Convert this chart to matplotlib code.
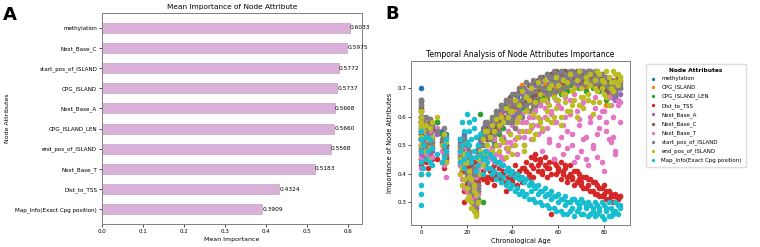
import matplotlib.pyplot as plt

# panel A data
attr_names = [
    "methylation", "Next_Base_C", "start_pos_of_ISLAND", "CPG_ISLAND",
    "Next_Base_A", "CPG_ISLAND_LEN", "end_pos_of_ISLAND", "Next_Base_T",
    "Dist_to_TSS", "Map_Info(Exact Cpg position)",
]
mean_importance = [0.6033, 0.5975, 0.5772, 0.5737, 0.5668, 0.5660,
                   0.5568, 0.5183, 0.4324, 0.3909]

# panel B data: sample ages and per-attribute importance
ages = ([0] * 8 + [1, 1, 2, 2, 3, 3, 4, 4, 5, 5] + [7, 9, 10, 10, 11, 11]
        + [17, 17, 18, 19, 19, 20, 20, 21, 21, 22, 22, 23, 23, 24, 24, 25, 25,
           26, 27, 28, 29]
        + list(range(30, 88)))

methylation = [
    0.70, 0.62, 0.58, 0.55, 0.60, 0.52, 0.65, 0.57,
    0.60, 0.55, 0.58, 0.52, 0.56, 0.50, 0.54, 0.59, 0.53, 0.57,
    0.58, 0.55, 0.53, 0.50, 0.54, 0.48,
    0.52, 0.48, 0.50, 0.46, 0.54, 0.42, 0.51, 0.38, 0.47, 0.35, 0.44, 0.31, 0.41,
    0.29, 0.38, 0.35, 0.48, 0.52, 0.55, 0.57, 0.54,
    0.55, 0.58, 0.56, 0.60, 0.58, 0.62, 0.60, 0.64, 0.62, 0.65,
    0.60, 0.63, 0.67, 0.63, 0.65, 0.69, 0.65, 0.67, 0.70, 0.66,
    0.68, 0.71, 0.67, 0.69, 0.72, 0.69, 0.70, 0.73, 0.70, 0.71,
    0.74, 0.71, 0.72, 0.74, 0.72, 0.73, 0.75, 0.73, 0.74, 0.72,
    0.75, 0.73, 0.71, 0.75, 0.74, 0.72, 0.75, 0.73, 0.71, 0.74,
    0.72, 0.68, 0.73, 0.69, 0.71, 0.67, 0.72, 0.70,
]
cpg_island = [
    0.64, 0.60, 0.56, 0.53, 0.58, 0.62, 0.50, 0.55,
    0.57, 0.53, 0.59, 0.50, 0.55, 0.48, 0.58, 0.52, 0.56, 0.50,
    0.55, 0.51, 0.49, 0.53, 0.46, 0.44,
    0.49, 0.45, 0.47, 0.43, 0.51, 0.39, 0.49, 0.35, 0.46, 0.32, 0.43, 0.29, 0.40,
    0.27, 0.37, 0.33, 0.47, 0.50, 0.53, 0.56, 0.52,
    0.54, 0.57, 0.53, 0.59, 0.56, 0.61, 0.58, 0.63, 0.60, 0.64,
    0.59, 0.62, 0.66, 0.70, 0.71, 0.67, 0.63, 0.66, 0.69, 0.64,
    0.67, 0.70, 0.65, 0.68, 0.71, 0.67, 0.70, 0.72, 0.68, 0.70,
    0.73, 0.69, 0.71, 0.73, 0.70, 0.72, 0.74, 0.71, 0.73, 0.71,
    0.74, 0.72, 0.70, 0.74, 0.73, 0.71, 0.74, 0.72, 0.70, 0.73,
    0.71, 0.64, 0.72, 0.68, 0.70, 0.73, 0.71, 0.74,
]
cpg_island_len = [
    0.60, 0.56, 0.52, 0.48, 0.63, 0.58, 0.45, 0.54,
    0.55, 0.50, 0.57, 0.47, 0.53, 0.45, 0.56, 0.49, 0.52, 0.46,
    0.58, 0.54, 0.51, 0.48, 0.50, 0.45,
    0.47, 0.43, 0.45, 0.41, 0.49, 0.37, 0.47, 0.33, 0.44, 0.30, 0.41, 0.28, 0.38,
    0.26, 0.35, 0.31, 0.45, 0.61, 0.30, 0.54, 0.50,
    0.52, 0.55, 0.51, 0.57, 0.54, 0.59, 0.56, 0.65, 0.66, 0.63,
    0.65, 0.60, 0.64, 0.61, 0.63, 0.66, 0.62, 0.65, 0.68, 0.63,
    0.66, 0.69, 0.64, 0.67, 0.70, 0.66, 0.69, 0.71, 0.67, 0.69,
    0.72, 0.68, 0.70, 0.72, 0.69, 0.71, 0.73, 0.70, 0.72, 0.70,
    0.73, 0.71, 0.69, 0.73, 0.72, 0.70, 0.73, 0.71, 0.69, 0.72,
    0.70, 0.66, 0.71, 0.67, 0.69, 0.72, 0.70, 0.73,
]
dist_to_tss = [
    0.45, 0.50, 0.40, 0.55, 0.48, 0.52, 0.43, 0.58,
    0.46, 0.52, 0.44, 0.55, 0.49, 0.42, 0.51, 0.47, 0.53, 0.45,
    0.45, 0.44, 0.48, 0.42, 0.50, 0.46,
    0.44, 0.48, 0.41, 0.30, 0.45, 0.36, 0.42, 0.33, 0.40, 0.31, 0.38, 0.29, 0.35,
    0.34, 0.41, 0.37, 0.44, 0.40, 0.38, 0.42, 0.39,
    0.41, 0.38, 0.43, 0.39, 0.42, 0.37, 0.40, 0.34, 0.39, 0.41,
    0.37, 0.40, 0.36, 0.39, 0.42, 0.38, 0.41, 0.40, 0.43, 0.39,
    0.45, 0.41, 0.44, 0.40, 0.43, 0.39, 0.42, 0.26, 0.44, 0.40,
    0.42, 0.38, 0.41, 0.43, 0.37, 0.40, 0.39, 0.36, 0.41, 0.38,
    0.37, 0.35, 0.39, 0.36, 0.38, 0.34, 0.37, 0.33, 0.35, 0.32,
    0.36, 0.34, 0.31, 0.33, 0.32, 0.32, 0.31, 0.32,
]
next_base_a = [
    0.58, 0.54, 0.50, 0.62, 0.47, 0.66, 0.56, 0.52,
    0.56, 0.51, 0.58, 0.49, 0.54, 0.47, 0.57, 0.50, 0.55, 0.48,
    0.54, 0.50, 0.47, 0.52, 0.44, 0.49,
    0.51, 0.47, 0.49, 0.45, 0.53, 0.41, 0.50, 0.37, 0.47, 0.34, 0.44, 0.31, 0.41,
    0.29, 0.39, 0.35, 0.49, 0.51, 0.54, 0.57, 0.53,
    0.57, 0.54, 0.58, 0.55, 0.60, 0.57, 0.62, 0.58, 0.63, 0.60,
    0.65, 0.61, 0.66, 0.63, 0.68, 0.64, 0.69, 0.65, 0.70, 0.67,
    0.71, 0.68, 0.72, 0.69, 0.73, 0.70, 0.74, 0.71, 0.75, 0.72,
    0.74, 0.73, 0.76, 0.72, 0.75, 0.73, 0.76, 0.74, 0.71, 0.75,
    0.73, 0.76, 0.74, 0.72, 0.76, 0.74, 0.71, 0.75, 0.73, 0.70,
    0.74, 0.72, 0.69, 0.73, 0.67, 0.66, 0.70, 0.68,
]
next_base_c = [
    0.66, 0.60, 0.56, 0.52, 0.63, 0.58, 0.54, 0.49,
    0.57, 0.53, 0.59, 0.50, 0.55, 0.48, 0.58, 0.51, 0.56, 0.49,
    0.55, 0.51, 0.48, 0.53, 0.45, 0.50,
    0.50, 0.46, 0.48, 0.44, 0.52, 0.40, 0.49, 0.36, 0.46, 0.33, 0.43, 0.30, 0.40,
    0.28, 0.38, 0.34, 0.48, 0.50, 0.53, 0.56, 0.52,
    0.55, 0.59, 0.56, 0.62, 0.58, 0.64, 0.60, 0.66, 0.62, 0.67,
    0.63, 0.68, 0.64, 0.69, 0.65, 0.70, 0.66, 0.71, 0.67, 0.72,
    0.68, 0.73, 0.69, 0.74, 0.70, 0.75, 0.71, 0.75, 0.72, 0.76,
    0.73, 0.75, 0.72, 0.76, 0.74, 0.72, 0.75, 0.73, 0.76, 0.74,
    0.72, 0.75, 0.73, 0.76, 0.74, 0.71, 0.75, 0.73, 0.70, 0.74,
    0.72, 0.69, 0.73, 0.70, 0.72, 0.69, 0.74, 0.72,
]
next_base_t = [
    0.45, 0.50, 0.55, 0.58, 0.48, 0.52, 0.60, 0.42,
    0.50, 0.56, 0.47, 0.59, 0.52, 0.45, 0.55, 0.49, 0.51, 0.46,
    0.56, 0.48, 0.43, 0.52, 0.39, 0.47,
    0.47, 0.43, 0.45, 0.35, 0.42, 0.38, 0.46, 0.33, 0.40, 0.30, 0.37, 0.28, 0.35,
    0.32, 0.39, 0.36, 0.42, 0.44, 0.46, 0.42, 0.48,
    0.46, 0.49, 0.44, 0.50, 0.47, 0.52, 0.45, 0.51, 0.48, 0.54,
    0.50, 0.56, 0.47, 0.53, 0.58, 0.50, 0.55, 0.60, 0.52, 0.57,
    0.62, 0.54, 0.59, 0.48, 0.63, 0.56, 0.51, 0.61, 0.45, 0.58,
    0.64, 0.53, 0.47, 0.60, 0.55, 0.66, 0.50, 0.44, 0.62, 0.57,
    0.48, 0.65, 0.53, 0.43, 0.60, 0.50, 0.67, 0.46, 0.56, 0.62,
    0.41, 0.58, 0.52, 0.64, 0.53, 0.47, 0.66, 0.65,
]
start_pos = [
    0.55, 0.58, 0.60, 0.62, 0.64, 0.66, 0.52, 0.57,
    0.58, 0.52, 0.55, 0.60, 0.50, 0.56, 0.59, 0.53, 0.57, 0.51,
    0.55, 0.52, 0.56, 0.49, 0.53, 0.47,
    0.50, 0.46, 0.48, 0.44, 0.52, 0.40, 0.50, 0.36, 0.48, 0.33, 0.45, 0.30, 0.42,
    0.28, 0.40, 0.34, 0.50, 0.53, 0.56, 0.58, 0.55,
    0.56, 0.59, 0.54, 0.61, 0.57, 0.63, 0.59, 0.65, 0.61, 0.66,
    0.58, 0.64, 0.68, 0.62, 0.66, 0.70, 0.64, 0.68, 0.71, 0.65,
    0.69, 0.72, 0.66, 0.70, 0.73, 0.68, 0.71, 0.74, 0.69, 0.72,
    0.75, 0.70, 0.73, 0.75, 0.71, 0.74, 0.76, 0.72, 0.75, 0.73,
    0.76, 0.74, 0.72, 0.76, 0.75, 0.73, 0.76, 0.74, 0.72, 0.75,
    0.73, 0.71, 0.74, 0.70, 0.72, 0.69, 0.73, 0.71,
]
end_pos = [
    0.50, 0.53, 0.55, 0.57, 0.58, 0.60, 0.62, 0.56,
    0.55, 0.50, 0.57, 0.48, 0.52, 0.45, 0.56, 0.49, 0.58, 0.53,
    0.60, 0.50, 0.54, 0.46, 0.51, 0.44,
    0.45, 0.40, 0.42, 0.38, 0.47, 0.35, 0.44, 0.32, 0.41, 0.30, 0.38, 0.27, 0.36,
    0.25, 0.33, 0.30, 0.45, 0.48, 0.52, 0.55, 0.50,
    0.53, 0.48, 0.55, 0.50, 0.57, 0.52, 0.58, 0.46, 0.60, 0.54,
    0.62, 0.50, 0.58, 0.64, 0.55, 0.48, 0.62, 0.66, 0.57, 0.52,
    0.65, 0.60, 0.68, 0.56, 0.66, 0.62, 0.70, 0.58, 0.67, 0.63,
    0.71, 0.60, 0.68, 0.65, 0.72, 0.62, 0.69, 0.66, 0.73, 0.64,
    0.70, 0.67, 0.74, 0.68, 0.71, 0.65, 0.73, 0.69, 0.75, 0.70,
    0.72, 0.67, 0.74, 0.70, 0.76, 0.72, 0.75, 0.73,
]
map_info = [
    0.29, 0.33, 0.36, 0.40, 0.44, 0.48, 0.52, 0.55,
    0.42, 0.50, 0.45, 0.53, 0.40, 0.48, 0.44, 0.52, 0.43, 0.49,
    0.47, 0.44, 0.50, 0.46, 0.52, 0.48,
    0.48, 0.52, 0.50, 0.55, 0.45, 0.61, 0.47, 0.58, 0.50, 0.52, 0.44, 0.48, 0.56,
    0.46, 0.53, 0.50, 0.43, 0.47, 0.45, 0.48, 0.44,
    0.42, 0.46, 0.41, 0.44, 0.40, 0.43, 0.39, 0.41, 0.37, 0.40,
    0.36, 0.39, 0.35, 0.38, 0.34, 0.37, 0.33, 0.36, 0.34, 0.31,
    0.35, 0.33, 0.30, 0.34, 0.32, 0.29, 0.33, 0.31, 0.28, 0.32,
    0.30, 0.27, 0.31, 0.29, 0.26, 0.30, 0.28, 0.31, 0.27, 0.29,
    0.26, 0.30, 0.28, 0.25, 0.29, 0.27, 0.30, 0.26, 0.28, 0.25,
    0.29, 0.27, 0.25, 0.28, 0.26, 0.27, 0.29, 0.28,
]

# second batch of samples (ages 17-87) for the attributes visible on top
extra_ages = list(range(17, 30)) + list(range(30, 88))
extra_dist_to_tss = [
    0.40, 0.45, 0.34, 0.42, 0.38, 0.32, 0.44, 0.30, 0.36, 0.39, 0.41, 0.43, 0.37,
    0.39, 0.42, 0.36, 0.40, 0.44, 0.38, 0.41, 0.37, 0.42, 0.40,
    0.38, 0.43, 0.39, 0.41, 0.37, 0.42, 0.44, 0.39, 0.46, 0.42,
    0.47, 0.43, 0.45, 0.41, 0.46, 0.42, 0.44, 0.40, 0.45, 0.43,
    0.41, 0.44, 0.40, 0.42, 0.39, 0.43, 0.38, 0.41, 0.37, 0.40,
    0.36, 0.39, 0.35, 0.38, 0.34, 0.37, 0.33, 0.36, 0.32, 0.35,
    0.33, 0.31, 0.34, 0.32, 0.30, 0.33, 0.31, 0.32,
]
extra_next_base_t = [
    0.44, 0.38, 0.49, 0.34, 0.41, 0.31, 0.36, 0.29, 0.33, 0.40, 0.45, 0.50, 0.46,
    0.48, 0.45, 0.52, 0.47, 0.50, 0.46, 0.53, 0.49, 0.55, 0.51,
    0.57, 0.52, 0.59, 0.55, 0.61, 0.53, 0.58, 0.62, 0.56, 0.60,
    0.63, 0.57, 0.64, 0.55, 0.60, 0.65, 0.52, 0.62, 0.58, 0.66,
    0.50, 0.63, 0.57, 0.67, 0.49, 0.61, 0.54, 0.68, 0.46, 0.59,
    0.64, 0.52, 0.45, 0.66, 0.58, 0.49, 0.63, 0.54, 0.60, 0.44,
    0.62, 0.55, 0.67, 0.51, 0.60, 0.48, 0.64, 0.58,
]
extra_start_pos = [
    0.52, 0.42, 0.47, 0.38, 0.45, 0.34, 0.40, 0.30, 0.36, 0.46, 0.50, 0.54, 0.58,
    0.52, 0.60, 0.50, 0.62, 0.55, 0.64, 0.52, 0.66, 0.58, 0.63,
    0.68, 0.56, 0.65, 0.70, 0.60, 0.67, 0.72, 0.62, 0.69, 0.73,
    0.64, 0.71, 0.74, 0.66, 0.70, 0.75, 0.68, 0.72, 0.76, 0.69,
    0.73, 0.76, 0.70, 0.74, 0.71, 0.76, 0.72, 0.75, 0.73, 0.76,
    0.74, 0.71, 0.75, 0.73, 0.76, 0.72, 0.74, 0.76, 0.73, 0.75,
    0.72, 0.74, 0.70, 0.73, 0.71, 0.68, 0.72, 0.70,
]
extra_end_pos = [
    0.48, 0.36, 0.44, 0.31, 0.39, 0.28, 0.34, 0.26, 0.30, 0.40, 0.43, 0.47, 0.55,
    0.47, 0.57, 0.45, 0.59, 0.48, 0.60, 0.51, 0.63, 0.49, 0.62,
    0.47, 0.66, 0.53, 0.60, 0.69, 0.50, 0.67, 0.55, 0.70, 0.61,
    0.54, 0.72, 0.58, 0.66, 0.73, 0.59, 0.64, 0.71, 0.60, 0.74,
    0.66, 0.57, 0.73, 0.68, 0.62, 0.75, 0.64, 0.70, 0.60, 0.76,
    0.67, 0.63, 0.72, 0.66, 0.75, 0.61, 0.70, 0.76, 0.65, 0.73,
    0.68, 0.76, 0.64, 0.72, 0.69, 0.75, 0.71, 0.74,
]
extra_map_info = [
    0.44, 0.58, 0.42, 0.51, 0.55, 0.46, 0.59, 0.41, 0.50, 0.54, 0.40, 0.46, 0.42,
    0.47, 0.40, 0.45, 0.38, 0.44, 0.37, 0.43, 0.36, 0.42, 0.35,
    0.41, 0.34, 0.40, 0.33, 0.39, 0.32, 0.38, 0.31, 0.37, 0.36,
    0.30, 0.36, 0.34, 0.29, 0.35, 0.33, 0.28, 0.34, 0.32, 0.27,
    0.33, 0.31, 0.26, 0.32, 0.30, 0.27, 0.31, 0.25, 0.30, 0.28,
    0.31, 0.26, 0.29, 0.30, 0.26, 0.28, 0.25, 0.29, 0.27, 0.30,
    0.24, 0.28, 0.30, 0.25, 0.27, 0.30, 0.26, 0.29,
]

series_names = ["methylation", "CPG_ISLAND", "CPG_ISLAND_LEN", "Dist_to_TSS",
                "Next_Base_A", "Next_Base_C", "Next_Base_T",
                "start_pos_of_ISLAND", "end_pos_of_ISLAND",
                "Map_Info(Exact Cpg position)"]
series_values = [methylation, cpg_island, cpg_island_len, dist_to_tss,
                 next_base_a, next_base_c, next_base_t, start_pos, end_pos,
                 map_info]
extra_values = {
    "Dist_to_TSS": extra_dist_to_tss,
    "Next_Base_T": extra_next_base_t,
    "start_pos_of_ISLAND": extra_start_pos,
    "end_pos_of_ISLAND": extra_end_pos,
    "Map_Info(Exact Cpg position)": extra_map_info,
}

fig = plt.figure(figsize=(7.6, 2.47), dpi=100)

# --- panel A ---
ax1 = fig.add_axes([102 / 760, 1 - 224 / 247, 260 / 760, 211 / 247])
ypos = list(range(len(attr_names)))[::-1]
ax1.barh(ypos, mean_importance, height=0.5, color="#d8b0d8",
         edgecolor="#b898b8", linewidth=0.4)
for y, v in zip(ypos, mean_importance):
    ax1.text(v, y, f"{v:.4f}", va="center", ha="left", fontsize=4.2)
ax1.set_yticks(ypos)
ax1.set_yticklabels(attr_names)
ax1.set_xlim(0, max(mean_importance) * 1.05)
ax1.set_xlabel("Mean Importance", fontsize=4.5, labelpad=2)
ax1.set_ylabel("Node Attributes", fontsize=4.5, labelpad=4)
ax1.set_title("Mean Importance of Node Attribute", fontsize=5.3, pad=3)

# --- panel B ---
ax2 = fig.add_axes([411 / 760, 1 - 225 / 247, 219 / 760, 164 / 247])
for name, vals in zip(series_names, series_values):
    xs = list(ages)
    ys = list(vals)
    if name in extra_values:
        xs += extra_ages
        ys += extra_values[name]
    ax2.scatter(xs, ys, s=16, label=name, linewidths=0)
ax2.set_ylim(0.22, 0.795)
ax2.set_xlabel("Chronological Age", fontsize=4.7, labelpad=2)
ax2.set_ylabel("Importance of Node Attributes", fontsize=4.7, labelpad=3)
ax2.set_title("Temporal Analysis of Node Attributes Importance", fontsize=5.5, pad=3)
leg = ax2.legend(title="Node Attributes", bbox_to_anchor=(1.06, 1.0), loc="upper left",
                 fontsize=4.0, title_fontsize=4.2, markerscale=0.6,
                 handletextpad=0.9, labelspacing=0.62, borderpad=0.7,
                 handlelength=1.2, framealpha=1, edgecolor="#dddddd",
                 fancybox=False)
leg.get_title().set_fontweight("bold")

for ax in (ax1, ax2):
    ax.tick_params(labelsize=4.1, length=2, width=0.5, pad=1.5)
    for sp in ax.spines.values():
        sp.set_color("#808080")
        sp.set_linewidth(0.7)

fig.text(3 / 760, 1 - 6 / 247, "A", fontsize=13, fontweight="bold", va="top")
fig.text(385 / 760, 1 - 5 / 247, "B", fontsize=13, fontweight="bold", va="top")

fig.savefig("out.png", dpi=100)
